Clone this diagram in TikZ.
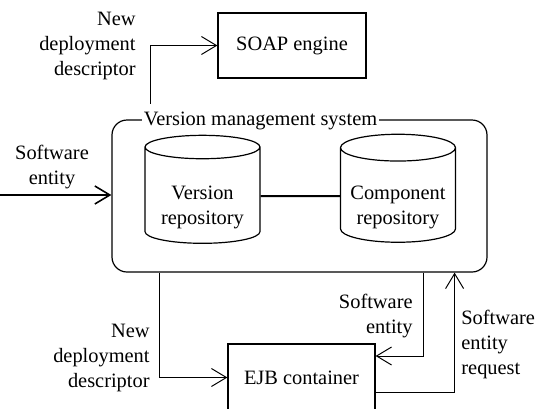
\documentclass[tikz,border=0pt]{standalone}
\usepackage{fontspec}
\setmainfont{Liberation Serif}
\usetikzlibrary{arrows.meta,positioning,shapes.geometric}

\begin{document}
\begin{tikzpicture}[
  x=0.5pt,y=-0.5pt,
  font=\fontsize{10.2}{12.5}\selectfont,
  box/.style={draw,line width=0.6pt,inner sep=2pt},
  sysbox/.style={box,rounded corners=7.5pt},
  repo/.style={draw,line width=0.6pt,cylinder,shape border rotate=90,aspect=0.27,
    minimum width=57.5pt,minimum height=54pt,align=center,inner sep=1pt,
    text height=30pt},
  title/.style={fill=white,inner sep=1pt},
  note/.style={align=right,inner sep=1pt},
  arr/.style={-{Straight Barb[length=7.5pt,width=9pt]},line width=0.5pt},
  link/.style={line width=1pt}
]
  \useasboundingbox (0,0) rectangle (536,408);

  % engine on top
  \node[box,minimum width=74pt,minimum height=32.5pt] (soap) at (292,45.5) {SOAP engine};

  % version management system with its two repositories
  \node[sysbox,minimum width=187.5pt,minimum height=76pt] (vms) at (299.5,196) {};
  \node[title] (vmstitle) at (260.5,121) {Version management system};
  \node[repo] (ver)  at (202.5,197) {Version\\repository};
  \node[repo] (comp) at (398,197)   {Component\\repository};
  \draw[link] ([yshift=0.5pt]ver.east) -- ([yshift=0.5pt]comp.west);

  % container below
  \node[box,minimum width=73.5pt,minimum height=33.5pt] (ejb) at (301.5,377.5) {EJB container};

  % input from the left
  \coordinate (src) at (0,195);
  \draw[arr,line width=0.8pt] (src) -- (src -| vms.west);
  \node[note,align=center] (srclbl) at (52,167) {Software\\entity};

  % descriptor to the engine
  \draw[arr] ([xshift=4.5pt,yshift=3pt]vmstitle.north west) |- (soap.west);
  \node[note,anchor=east] (toplbl) at (138,46) {New\\deployment\\descriptor};

  % exchanges with the container
  \draw[arr] ([xshift=24pt]vms.south west) |- (ejb.west);
  \node[note,anchor=east] (botlbl) at (152,358) {New\\deployment\\descriptor};
  \draw[arr] ([xshift=-32pt]vms.south east) |- ([yshift=10.75pt]ejb.east);
  \node[note,anchor=east] (selbl) at (415,316) {Software\\entity};
  \draw[arr] ([yshift=-7.5pt]ejb.east) -| ([xshift=-16.5pt]vms.south east);
  \node[note,anchor=west,align=left] (reqlbl) at (459,344) {Software\\entity\\request};
\end{tikzpicture}
\end{document}
